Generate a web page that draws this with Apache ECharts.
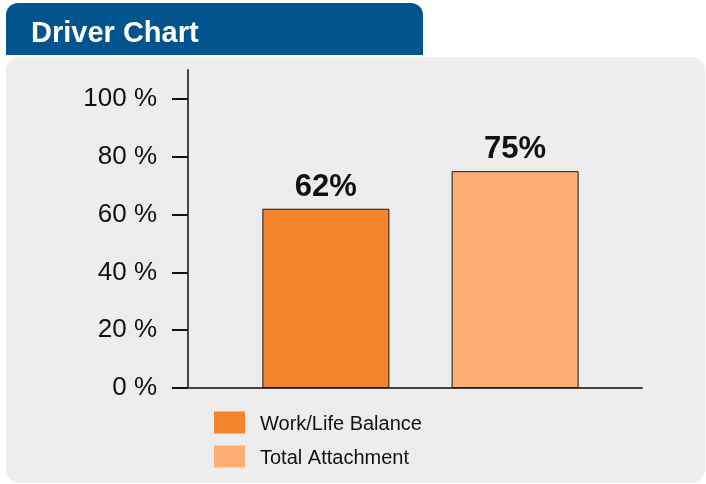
<!DOCTYPE html>
<html>
<head>
<meta charset="utf-8">
<script src="https://cdn.jsdelivr.net/npm/echarts@6/dist/echarts.min.js"></script>
<style>
html,body{margin:0;padding:0;background:#fff;}
#c{width:706px;height:484px;}
</style>
</head>
<body>
<div id="c"></div>
<script>
const titleText = 'Driver Chart';
const seriesNames = ['Work/Life Balance', 'Total Attachment'];
const seriesValues = [62, 75];
const seriesColors = ['#F5842F', '#FDAE74'];
const yTicks = [0, 20, 40, 60, 80, 100];

const FONT = '"Liberation Sans", Arial, sans-serif';
const chart = echarts.init(document.getElementById('c'), null, {renderer: 'canvas'});

const series = seriesNames.map((name, i) => ({
  name: name,
  type: 'bar',
  data: [seriesValues[i]],
  barWidth: 127,
  barGap: '49%',
  itemStyle: {color: seriesColors[i], borderColor: '#1a1a1a', borderWidth: 1},
  label: {
    show: true, position: 'top', distance: 6,
    formatter: p => p.value + '%',
    fontFamily: FONT,
    fontWeight: 'bold', fontSize: 31, color: '#111'
  },
  emphasis: {disabled: true}
}));

chart.setOption({
  animation: false,
  backgroundColor: '#ffffff',
  graphic: [
    {type: 'rect', z: -10, shape: {x: 6, y: 3, width: 417, height: 52, r: [12, 12, 0, 0]}, style: {fill: '#02548F'}},
    {type: 'rect', z: -10, shape: {x: 6, y: 57, width: 699, height: 426, r: 14}, style: {fill: '#EDEDED'}}
  ],
  title: {
    text: titleText, left: 26, top: 14,
    textStyle: {color: '#fff', fontFamily: FONT, fontWeight: 'bold', fontSize: 29}
  },
  grid: [
    {left: 188, right: 53, top: 70, bottom: 96, containLabel: false},
    {left: 188, right: 64, top: 70, bottom: 96, containLabel: false}
  ],
  legend: {
    orient: 'vertical', left: 209, top: 406,
    itemWidth: 31, itemHeight: 22, itemGap: 11,
    icon: 'rect',
    itemStyle: {borderWidth: 0},
    selectedMode: false,
    formatter: '{a|{name}}',
    textStyle: {
      fontFamily: FONT, fontSize: 20, color: '#111', padding: [0, 0, 0, 10],
      rich: {a: {fontFamily: FONT, fontSize: 20, color: '#111', lineHeight: 20, padding: [3, 0, 0, 0]}}
    },
    data: seriesNames
  },
  xAxis: [
    {
      type: 'category', data: [''], gridIndex: 0,
      axisLine: {show: false},
      axisTick: {show: false}, axisLabel: {show: false}, splitLine: {show: false}
    },
    {
      type: 'category', data: [''], gridIndex: 1,
      axisLine: {show: true, lineStyle: {color: '#444', width: 2}},
      axisTick: {show: false}, axisLabel: {show: false}, splitLine: {show: false}
    }
  ],
  yAxis: [
    {
      type: 'value', min: 0, max: 110, interval: 10, gridIndex: 0,
      axisLine: {show: false}, axisTick: {show: false}, axisLabel: {show: false}, splitLine: {show: false}
    },
    {
      type: 'value', min: 0, max: 110, interval: 10, gridIndex: 1,
      axisLine: {show: true, lineStyle: {color: '#444', width: 2}},
      axisTick: {show: true, length: 16, lineStyle: {color: '#111', width: 2}, customValues: yTicks},
      axisLabel: {
        customValues: yTicks, margin: 31,
        formatter: v => v + ' %',
        fontFamily: FONT, fontSize: 26, color: '#111'
      },
      splitLine: {show: false}
    }
  ],
  series: series
});
</script>
</body>
</html>
